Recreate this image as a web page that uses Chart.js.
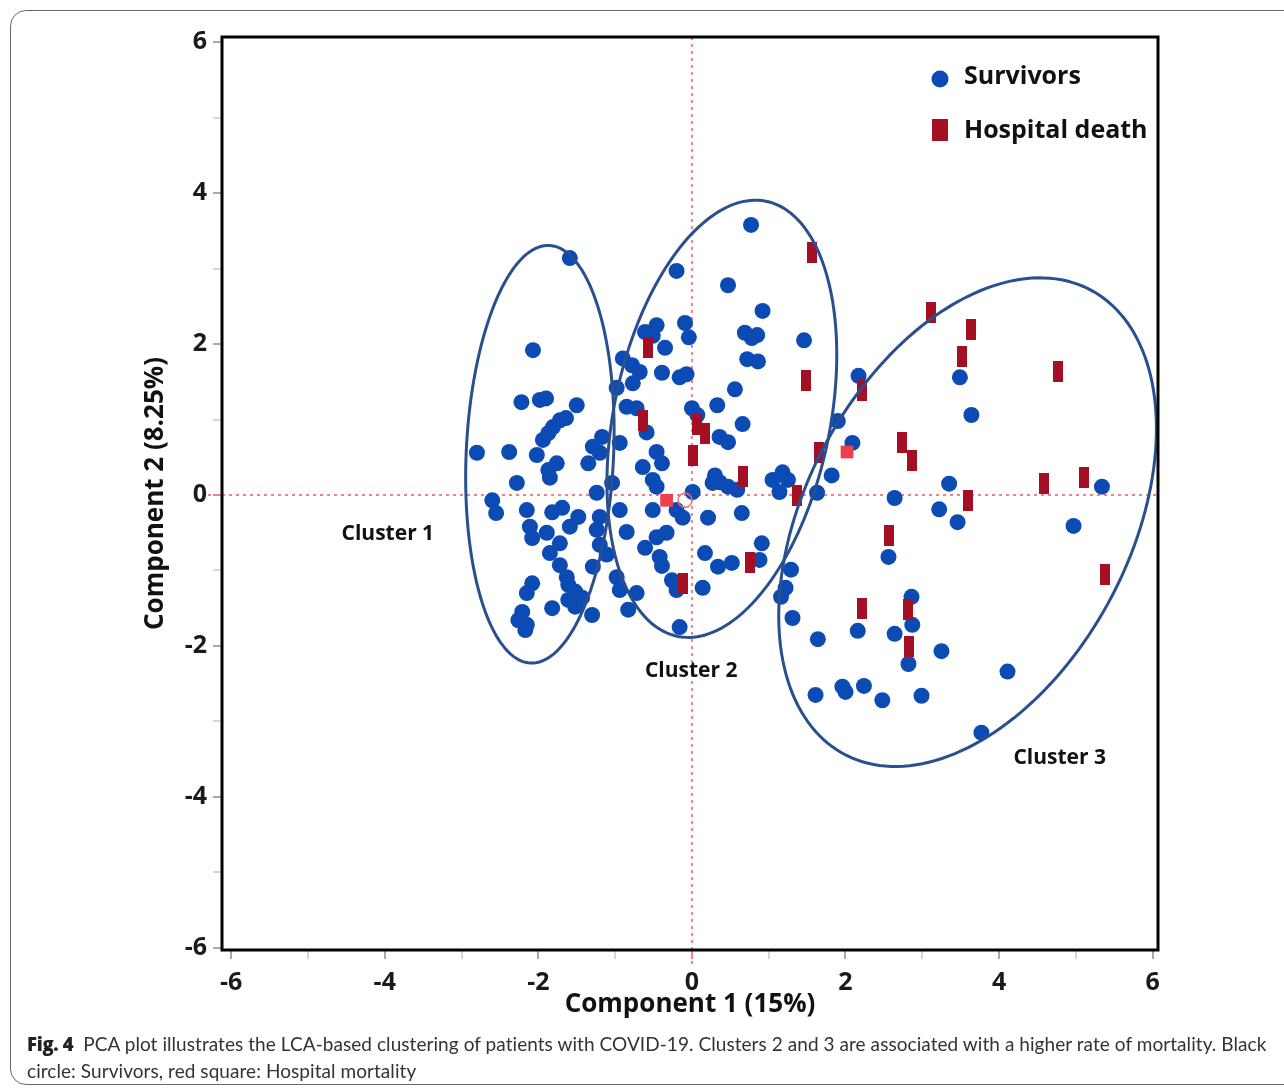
<!DOCTYPE html>
<html>
<head>
<meta charset="utf-8">
<script src="https://cdn.jsdelivr.net/npm/chart.js@4.4.1/dist/chart.umd.min.js"></script>
<style>
  html, body { margin: 0; padding: 0; background: #fff; overflow: hidden; }
  #page { position: absolute; left: 0; top: 0; width: 1284px; height: 1092px; overflow: hidden; }
  #frame { position: absolute; left: 10px; top: 10px; width: 1300px; height: 1075px;
           border: 1.5px solid #6a6a6a; border-radius: 16px; box-sizing: border-box; }
  #plot { position: absolute; left: 0; top: 0; }
  #caption { position: absolute; left: 27px; top: 1030px; white-space: nowrap; letter-spacing: 0.06px;
             font-family: Lato, 'Open Sans', sans-serif; font-size: 19px; line-height: 27px; color: #333; }
  #caption b { font-family: 'Open Sans', sans-serif; font-weight: 800; color: #222; font-size: 18.5px; letter-spacing: -0.3px; }
</style>
</head>
<body>
<div id="page">
  <div id="frame"></div>
  <canvas id="plot" width="1284" height="1092"></canvas>
  <div id="caption"><b>Fig. 4</b>&nbsp;&nbsp;PCA plot illustrates the LCA-based clustering of patients with COVID-19. Clusters 2 and 3 are associated with a higher rate of mortality. Black<br>circle: Survivors, red square: Hospital mortality</div>
</div>
<script>
// PCA scores (Component 1, Component 2) per patient
const survivors = [
  [-2.80,0.56],[-2.60,-0.07],[-2.55,-0.24],[-2.38,0.57],[-2.28,0.16],[-2.22,1.23],[-1.98,1.26],[-1.90,1.28],
  [-2.07,1.92],[-1.50,1.19],[-1.59,3.14],[-2.02,0.53],[-1.94,0.73],[-1.87,0.82],[-1.81,0.90],[-1.72,0.99],
  [-1.64,1.02],[-1.76,0.42],[-1.87,0.33],[-1.85,0.23],[-1.35,0.42],[-1.29,0.64],[-1.17,0.77],[-1.20,0.56],
  [-2.15,-0.20],[-1.82,-0.23],[-1.69,-0.17],[-2.11,-0.42],[-2.08,-0.57],[-1.89,-0.50],[-1.59,-0.42],[-1.48,-0.29],
  [-1.72,-0.64],[-1.85,-0.77],[-1.20,-0.29],[-1.24,-0.46],[-1.20,-0.66],[-1.29,-0.95],[-1.11,-0.79],[-1.72,-0.93],
  [-1.63,-1.09],[-1.61,-1.19],[-1.52,-1.28],[-2.08,-1.17],[-2.15,-1.30],[-1.82,-1.50],[-2.21,-1.55],[-2.26,-1.66],
  [-2.15,-1.72],[-2.17,-1.79],[-1.61,-1.39],[-1.52,-1.48],[-1.43,-1.36],[-1.30,-1.59],[-0.98,-1.09],[-0.94,-1.26],
  [-0.83,-1.52],[-1.24,0.03],[-1.04,0.16],[-0.94,-0.20],[-0.85,-0.49],
  [0.77,3.58],[-0.20,2.97],[0.47,2.78],[0.92,2.44],[-0.46,2.25],[-0.61,2.16],[-0.51,2.11],[-0.35,1.95],
  [-0.09,2.28],[-0.04,2.09],[0.69,2.15],[0.85,2.12],[0.78,2.08],[0.72,1.80],[0.86,1.77],[0.56,1.40],
  [0.33,1.19],[-0.39,1.62],[-0.16,1.56],[-0.07,1.60],[-0.90,1.81],[-0.78,1.72],[-0.68,1.63],[-0.77,1.48],
  [-0.98,1.42],[-0.85,1.17],[-0.72,1.15],[0.00,1.15],[0.07,1.06],[0.66,0.94],[1.46,2.05],[0.36,0.77],
  [0.47,0.70],[-0.59,0.83],[-0.94,0.69],[-0.46,0.57],[-0.39,0.42],[-0.64,0.37],[-0.51,0.20],[-0.46,0.11],
  [0.30,0.26],[0.36,0.17],[0.47,0.11],[0.59,0.07],[0.27,0.16],[1.05,0.20],[1.18,0.30],[1.25,0.20],
  [1.14,0.04],[1.63,0.03],[1.82,0.26],[0.01,0.04],[-0.20,-0.20],[-0.12,-0.30],[-0.51,-0.20],[0.21,-0.30],
  [0.65,-0.24],[-0.46,-0.56],[-0.33,-0.50],[-0.61,-0.70],[-0.42,-0.82],[-0.39,-0.94],[0.17,-0.77],[0.34,-0.95],
  [0.52,-0.90],[0.91,-0.64],[0.88,-0.86],[-0.26,-1.13],[-0.20,-1.26],[0.14,-1.23],[-0.72,-1.30],[-0.16,-1.75],
  [1.29,-0.99],[1.22,-1.23],[1.16,-1.35],[1.31,-1.63],[1.64,-1.91],
  [2.17,1.58],[3.49,1.56],[1.90,0.98],[2.09,0.69],[3.35,0.15],[2.64,-0.04],[3.22,-0.19],[3.46,-0.36],
  [3.64,1.06],[2.56,-0.82],[2.16,-1.80],[2.86,-1.35],[2.87,-1.72],[2.64,-1.84],[2.82,-2.24],[3.25,-2.07],
  [1.61,-2.65],[1.96,-2.54],[2.00,-2.61],[2.24,-2.53],[2.48,-2.72],[2.99,-2.66],[3.77,-3.15],[4.11,-2.34],
  [4.97,-0.41],[5.34,0.11]
];
const hospitalDeaths = [
  [-0.57,1.95],[-0.64,0.99],[0.07,0.94],[0.17,0.82],[0.01,0.53],[0.66,0.24],[1.37,0.00],[0.75,-0.90],
  [-0.12,-1.17],[1.57,3.22],[1.48,1.52],[2.22,1.39],[3.11,2.42],[1.66,0.56],[2.74,0.70],[2.87,0.46],
  [3.63,2.19],[3.52,1.83],[4.77,1.64],[3.60,-0.07],[4.59,0.15],[5.10,0.23],[5.38,-1.06],[2.57,-0.53],
  [2.22,-1.50],[2.82,-1.52],[2.83,-2.01]
];
// selected points shown with a lighter marker
const selectedDeaths = [[-0.33,-0.07],[2.02,0.57]];
const selectedSurvivors = [[-0.09,-0.07]];

const majorTicks = [-6, -4, -2, 0, 2, 4, 6];
const minorTicks = [-5, -3, -1, 1, 3, 5];

const legendLabels = ['Survivors', 'Hospital death'];
const clusterNames = ['Cluster 1', 'Cluster 2', 'Cluster 3'];
// where each cluster name sits, in component units
const clusterLabelAt = [[-3.96,-0.52],[-0.01,-2.33],[4.79,-3.48]];
// cluster outlines: centre, semi-axes (component units) and tilt from vertical (deg)
const clusterOutlines = [
  { cx: -1.98, cy: 0.54, a: 2.77, b: 0.96, tilt: 2.5 },
  { cx: 0.39,  cy: 1.01, a: 2.94, b: 1.41, tilt: 11.2 },
  { cx: 3.59,  cy: -0.36, a: 3.47, b: 2.12, tilt: 27 }
];

const BLUE = '#0c4bb3';
const DARK_RED = '#a50f24';
const LIGHT_RED = '#f0404e';
const OUTLINE = '#2a4f8e';
const FONT = "'Open Sans', 'DejaVu Sans', sans-serif";

function barMarker(w, h, color) {
  const c = document.createElement('canvas');
  c.width = w; c.height = h;
  const g = c.getContext('2d');
  g.fillStyle = color;
  g.fillRect(0, 0, w, h);
  return c;
}
const deathMarker = barMarker(10, 21, DARK_RED);

const toPoints = arr => arr.map(([x, y]) => ({ x, y }));

const decorations = {
  id: 'decorations',
  beforeDatasetsDraw(chart) {
    const { ctx, chartArea: a, scales: { x, y } } = chart;
    const x0 = x.getPixelForValue(0), y0 = y.getPixelForValue(0);
    ctx.save();
    ctx.strokeStyle = '#f2808b';
    ctx.lineWidth = 2;
    ctx.setLineDash([3, 4]);
    ctx.beginPath();
    ctx.moveTo(x0, a.top); ctx.lineTo(x0, a.bottom + 18);
    ctx.moveTo(a.left - 14, y0); ctx.lineTo(a.right, y0);
    ctx.stroke();
    ctx.restore();
  },
  afterDatasetsDraw(chart) {
    const { ctx, chartArea: a, scales: { x, y } } = chart;
    ctx.save();
    // cluster outlines
    ctx.strokeStyle = OUTLINE;
    ctx.lineWidth = 3;
    clusterOutlines.forEach(e => {
      const t = e.tilt * Math.PI / 180;
      const ux = Math.sin(t), uy = Math.cos(t);
      const vx = Math.cos(t), vy = -Math.sin(t);
      ctx.beginPath();
      for (let i = 0; i <= 180; i++) {
        const s = i / 180 * Math.PI * 2;
        const dx = e.cx + e.a * Math.cos(s) * ux + e.b * Math.sin(s) * vx;
        const dy = e.cy + e.a * Math.cos(s) * uy + e.b * Math.sin(s) * vy;
        const px = x.getPixelForValue(dx), py = y.getPixelForValue(dy);
        if (i === 0) ctx.moveTo(px, py); else ctx.lineTo(px, py);
      }
      ctx.closePath();
      ctx.stroke();
    });
    // cluster names
    ctx.fillStyle = '#111';
    ctx.font = `700 21px ${FONT}`;
    ctx.textAlign = 'center';
    ctx.textBaseline = 'middle';
    clusterNames.forEach((n, i) => {
      ctx.fillText(n, x.getPixelForValue(clusterLabelAt[i][0]), y.getPixelForValue(clusterLabelAt[i][1]));
    });
    // plot frame
    ctx.strokeStyle = '#000';
    ctx.lineWidth = 3;
    ctx.strokeRect(a.left, a.top, a.right - a.left, a.bottom - a.top);
    // legend
    const lx = a.right - 218, ly1 = a.top + 42, ly2 = a.top + 93;
    ctx.fillStyle = BLUE;
    ctx.beginPath(); ctx.arc(lx, ly1, 8.5, 0, Math.PI * 2); ctx.fill();
    ctx.fillStyle = DARK_RED;
    ctx.fillRect(lx - 8, ly2 - 11, 16, 22);
    ctx.fillStyle = '#111';
    ctx.font = `700 25px ${FONT}`;
    ctx.textAlign = 'left';
    ctx.fillText(legendLabels[0], lx + 24, ly1 - 2);
    ctx.fillText(legendLabels[1], lx + 24, ly2 + 1);
    ctx.restore();
  }
};

const tickColor = ctx => {
  const v = ctx.tick ? ctx.tick.value : null;
  if (v === 0) return '#f2808b';
  return majorTicks.includes(v) ? '#a9a9b4' : '#d6d6dc';
};
const allTicks = majorTicks.concat(minorTicks).sort((p, q) => p - q);
const tickLabel = v => (majorTicks.includes(v) ? String(v) : '');

new Chart(document.getElementById('plot'), {
  type: 'scatter',
  data: {
    datasets: [
      { label: legendLabels[1], data: toPoints(hospitalDeaths), pointStyle: deathMarker, order: 0 },
      { label: 'selected', data: toPoints(selectedDeaths), pointStyle: 'rect', pointRadius: 9,
        backgroundColor: LIGHT_RED, borderColor: LIGHT_RED, borderWidth: 0, order: 0 },
      { label: 'selected survivor', data: toPoints(selectedSurvivors), pointStyle: 'circle', pointRadius: 7,
        backgroundColor: 'rgba(0,0,0,0)', borderColor: '#ef6a78', borderWidth: 1.5, order: 0 },
      { label: legendLabels[0], data: toPoints(survivors), pointStyle: 'circle', pointRadius: 8,
        backgroundColor: BLUE, borderColor: BLUE, borderWidth: 0, order: 1 }
    ]
  },
  options: {
    responsive: false,
    animation: false,
    events: [],
    layout: { padding: { left: 140, right: 126, top: 37, bottom: 72 } },
    plugins: { legend: { display: false }, tooltip: { enabled: false } },
    scales: {
      x: {
        type: 'linear', min: -6.12, max: 6.07,
        afterBuildTicks: s => { s.ticks = allTicks.map(v => ({ value: v })); },
        afterFit: s => { s.height = 70; },
        ticks: { autoSkip: false, maxRotation: 0, padding: 9, color: '#1a1a1a',
                 font: { family: FONT, size: 25, weight: '700' }, callback: tickLabel },
        grid: { drawOnChartArea: false, drawTicks: true, tickLength: 9, lineWidth: 2, tickColor },
        border: { display: false },
        title: { display: true, text: 'Component 1 (15%)', color: '#111', padding: 0,
                 font: { family: FONT, size: 26, weight: '700' } }
      },
      y: {
        type: 'linear', min: -6.03, max: 6.07,
        afterBuildTicks: s => { s.ticks = allTicks.map(v => ({ value: v })); },
        afterFit: s => { s.width = 82; },
        ticks: { autoSkip: false, padding: 6, color: '#1a1a1a',
                 font: { family: FONT, size: 25, weight: '700' }, callback: tickLabel },
        grid: { drawOnChartArea: false, drawTicks: true, tickLength: 9, lineWidth: 2, tickColor },
        border: { display: false },
        title: { display: true, text: 'Component 2 (8.25%)', color: '#111', padding: 0,
                 font: { family: FONT, size: 26, weight: '700' } }
      }
    }
  },
  plugins: [decorations]
});
</script>
</body>
</html>
